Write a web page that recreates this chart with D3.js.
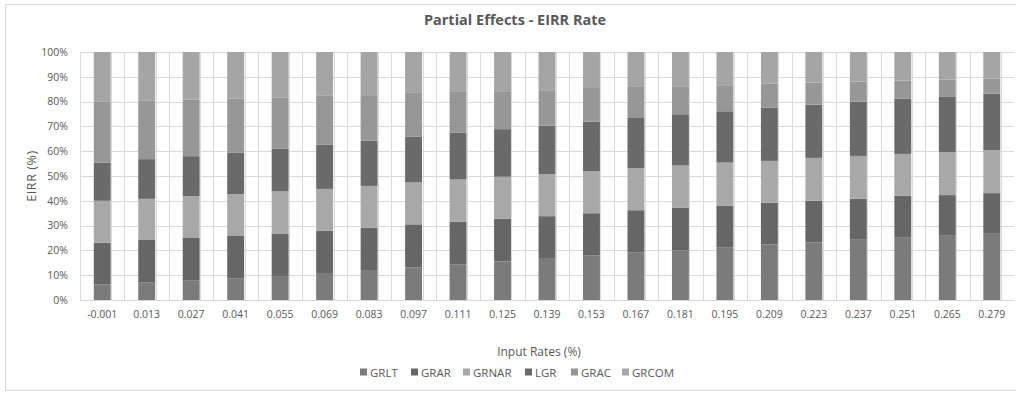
<!DOCTYPE html>
<html>
<head>
<meta charset="utf-8">
<script src="https://cdn.jsdelivr.net/npm/d3@7"></script>
<style>
  body { margin: 0; background: #fff; }
  #figure { width: 1016px; height: 394px; }
  text { font-family: "Open Sans", "Noto Sans", sans-serif; fill: #595959; }
</style>
</head>
<body>
<div id="figure"></div>
<script>
// categories on the x axis
const categories = ["-0.001","0.013","0.027","0.041","0.055","0.069","0.083","0.097","0.111","0.125",
  "0.139","0.153","0.167","0.181","0.195","0.209","0.223","0.237","0.251","0.265","0.279"];

const series_names = ["GRLT","GRAR","GRNAR","LGR","GRAC","GRCOM"];

// share of each series (%)
const GRLT  = [6.3,7.0,7.8,8.6,9.7,10.9,12.1,13.2,14.4,15.6,16.6,17.9,19.1,20.1,21.3,22.4,23.2,24.3,25.1,25.9,26.7];
const GRAR  = [16.8,17.2,17.2,17.2,17.1,17.0,17.0,17.3,17.1,17.2,17.2,17.1,17.1,17.2,16.8,16.8,16.8,16.5,16.9,16.4,16.4];
const GRNAR = [16.9,16.6,16.9,16.9,17.0,16.9,16.9,16.9,17.1,16.9,16.9,16.9,17.0,16.9,17.3,16.9,17.3,17.3,16.9,17.3,17.3];
const LGR   = [15.3,16.0,16.1,16.8,17.3,17.9,18.2,18.4,18.8,19.2,19.6,20.0,20.2,20.7,20.7,21.5,21.5,21.9,22.2,22.5,22.8];
const GRAC  = [24.6,23.5,22.8,21.8,20.6,19.6,18.4,17.7,16.5,15.3,14.3,13.6,12.5,11.3,10.5,9.6,8.9,8.1,7.4,6.8,6.1];
const GRCOM = [20.1,19.7,19.2,18.7,18.3,17.7,17.4,16.5,16.1,15.8,15.4,14.5,14.1,13.8,13.4,12.8,12.3,11.9,11.5,11.1,10.7];

const y_ticks = [0,0.1,0.2,0.3,0.4,0.5,0.6,0.7,0.8,0.9,1];

const colors = ["#7b7b7b","#666666","#a8a8a8","#6a6a6a","#979797","#a5a5a5"];

document.addEventListener("DOMContentLoaded", ()=>{
  const W = 1016, H = 394;
  const margin = { top: 52, bottom: 94, left: 80, right: 2 };
  const width = W - margin.left - margin.right,
        height = H - margin.top - margin.bottom;

  const all = [GRLT, GRAR, GRNAR, LGR, GRAC, GRCOM];
  const table = categories.map((c, i) => {
    let row = { cat: c };
    series_names.forEach((s, j) => row[s] = all[j][i]);
    return row;
  });

  const stacked = d3.stack()
    .keys(series_names)
    .offset(d3.stackOffsetExpand)(table);

  const x_scale = d3.scaleBand()
    .domain(categories)
    .range([0, width])
    .paddingInner(0.62)
    .paddingOuter(0.31);

  const y_scale = d3.scaleLinear()
    .domain([0, 1])
    .range([height, 0]);

  const color = d3.scaleOrdinal().domain(series_names).range(colors);

  const root = d3.select("#figure").append("svg")
    .attr("width", W)
    .attr("height", H);

  // outer chart frame
  root.append("rect")
    .attr("x", 5.5).attr("y", 4.5)
    .attr("width", W + 10).attr("height", 386)
    .attr("fill", "none")
    .attr("stroke", "#d9d9d9");

  root.append("text")
    .attr("x", 515).attr("y", 25)
    .attr("text-anchor", "middle")
    .style("font-size", "14.5px")
    .style("font-weight", "bold")
    .text("Partial Effects - EIRR Rate");

  const svg = root.append("g")
    .attr("transform", "translate(" + margin.left + "," + margin.top + ")");

  // horizontal grid
  svg.append("g").selectAll("line")
    .data(y_ticks)
    .join("line")
    .attr("x1", 0).attr("x2", width)
    .attr("y1", d => Math.round(y_scale(d)) + 0.5)
    .attr("y2", d => Math.round(y_scale(d)) + 0.5)
    .attr("stroke", "#d9d9d9");

  // vertical grid: category borders and a line at each bar's right side
  const step = x_scale.step();
  const vlines = [];
  categories.forEach((c, i) => {
    vlines.push(i * step + x_scale(categories[0]) - x_scale.paddingOuter() * step);
    vlines.push(x_scale(c) + x_scale.bandwidth() + 0.5);
  });
  svg.append("g").selectAll("line")
    .data(vlines)
    .join("line")
    .attr("x1", d => Math.round(d) + 0.5).attr("x2", d => Math.round(d) + 0.5)
    .attr("y1", 0).attr("y2", height)
    .attr("stroke", "#d9d9d9");

  // bars
  svg.append("g").selectAll("g")
    .data(stacked)
    .join("g")
    .attr("fill", d => color(d.key))
    .selectAll("rect")
    .data(d => d)
    .join("rect")
    .attr("x", d => x_scale(d.data.cat))
    .attr("width", x_scale.bandwidth())
    .attr("y", d => y_scale(d[1]))
    .attr("height", d => y_scale(d[0]) - y_scale(d[1]));

  // y axis labels
  const y_axis = svg.append("g")
    .call(d3.axisLeft(y_scale).tickValues(y_ticks).tickFormat(d3.format(".0%")).tickSize(0).tickPadding(12));
  y_axis.select(".domain").remove();
  y_axis.selectAll("text").style("font-size", "10.5px").attr("fill", "#595959");

  // x axis
  const x_axis = svg.append("g")
    .attr("transform", "translate(0," + height + ")")
    .call(d3.axisBottom(x_scale).tickSize(0).tickPadding(11));
  x_axis.select(".domain").attr("stroke", "#d9d9d9");
  x_axis.selectAll("text").style("font-size", "10.5px").attr("fill", "#595959");

  // axis titles
  root.append("text")
    .attr("transform", "translate(36," + (margin.top + height / 2) + ") rotate(-90)")
    .attr("text-anchor", "middle")
    .style("font-size", "12.5px")
    .style("letter-spacing", "0.6px")
    .text("EIRR  (%)");

  root.append("text")
    .attr("x", 539).attr("y", 356)
    .attr("text-anchor", "middle")
    .style("font-size", "12px")
    .text("Input Rates (%)");

  // legend
  const legend_x = [360, 411, 463, 525, 571, 622];
  const legend = root.append("g").selectAll("g")
    .data(series_names)
    .join("g")
    .attr("transform", (d, i) => "translate(" + legend_x[i] + ",372)");
  legend.append("rect")
    .attr("x", 0).attr("y", -3.5)
    .attr("width", 7).attr("height", 7)
    .attr("fill", d => color(d));
  legend.append("text")
    .attr("x", 10).attr("y", 4.5)
    .style("font-size", "11.5px")
    .text(d => d);
});
</script>
</body>
</html>
